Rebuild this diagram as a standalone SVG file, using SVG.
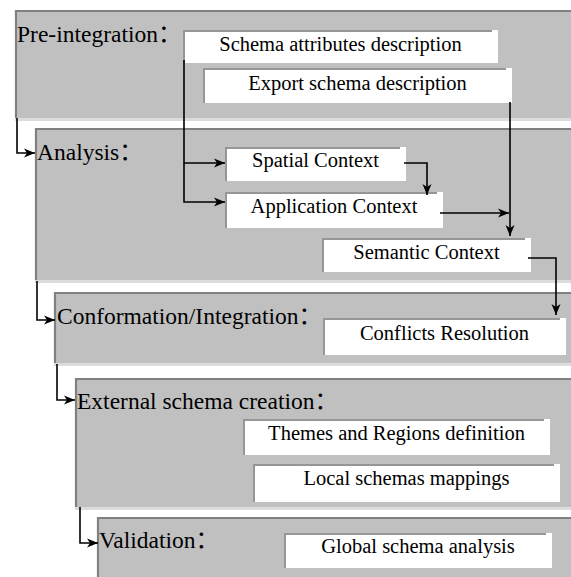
<svg xmlns="http://www.w3.org/2000/svg" width="571" height="577" viewBox="0 0 571 577">
<defs>
<marker id="ah" markerUnits="userSpaceOnUse" markerWidth="12" markerHeight="10" refX="11" refY="5" orient="auto">
<path d="M0,0.5 L11,5 L0,9.5 L3,5 z" fill="#000"/>
</marker>
<style>
.panel{fill:#c0c0c0}
.pedge{fill:none;stroke:#808080;stroke-width:2.2}
.plight{stroke:#dcdcdc;stroke-width:3}
.stage{font-family:"Liberation Serif","Times New Roman","Noto Sans CJK SC",serif;font-size:23.5px;fill:#000}
.box{fill:#fff}
.bedge{fill:none;stroke:#969696;stroke-width:2}
.bt{font-family:"Liberation Serif","Times New Roman",serif;font-size:20.5px;fill:#000;text-anchor:middle}
.cn{fill:none;stroke:#000;stroke-width:1.6;marker-end:url(#ah)}
</style>
</defs>
<rect width="571" height="577" fill="#fff"/>

<g id="stage-pre">
<rect class="panel" x="15" y="10" width="556" height="108"/>
<line class="plight" x1="15" y1="119.5" x2="571" y2="119.5"/>
<path class="pedge" d="M16,118 V11 H571"/>
<text class="stage" x="17" y="42">Pre-integration<tspan font-family="Noto Sans CJK SC,sans-serif">：</tspan></text>
</g>
<g id="stage-analysis">
<rect class="panel" x="35" y="128" width="536" height="152"/>
<line class="plight" x1="35" y1="281.5" x2="571" y2="281.5"/>
<path class="pedge" d="M36,280 V129 H571"/>
<text class="stage" x="37" y="160">Analysis<tspan font-family="Noto Sans CJK SC,sans-serif">：</tspan></text>
</g>
<g id="stage-conf">
<rect class="panel" x="54" y="292" width="517" height="71"/>
<line class="plight" x1="54" y1="364.5" x2="571" y2="364.5"/>
<path class="pedge" d="M55,363 V293 H571"/>
<text class="stage" x="57" y="324">Conformation/Integration<tspan font-family="Noto Sans CJK SC,sans-serif">：</tspan></text>
</g>
<g id="stage-external">
<rect class="panel" x="75" y="378" width="496" height="129"/>
<line class="plight" x1="75" y1="508.5" x2="571" y2="508.5"/>
<path class="pedge" d="M76,507 V379 H571"/>
<text class="stage" x="77" y="409">External schema creation<tspan font-family="Noto Sans CJK SC,sans-serif">：</tspan></text>
</g>
<g id="stage-validation">
<rect class="panel" x="97" y="517" width="474" height="60"/>
<path class="pedge" d="M98,577 V518 H571"/>
<text class="stage" x="99" y="548">Validation<tspan font-family="Noto Sans CJK SC,sans-serif">：</tspan></text>
</g>

<g id="box-schema-attr">
<rect class="box" x="183" y="30" width="315" height="33"/>
<path class="bedge" d="M184,63 V31 H492"/>
<text class="bt" x="340.5" y="51">Schema attributes description</text>
</g>
<g id="box-export">
<rect class="box" x="203" y="68" width="309" height="35"/>
<path class="bedge" d="M204,103 V69 H506"/>
<text class="bt" x="357.5" y="90">Export schema description</text>
</g>
<g id="box-spatial">
<rect class="box" x="225" y="147" width="181" height="34"/>
<path class="bedge" d="M226,181 V148 H400"/>
<text class="bt" x="315.5" y="167">Spatial Context</text>
</g>
<g id="box-application">
<rect class="box" x="225" y="192" width="218" height="36"/>
<path class="bedge" d="M226,228 V193 H437"/>
<text class="bt" x="334" y="213">Application Context</text>
</g>
<g id="box-semantic">
<rect class="box" x="322" y="238" width="209" height="34"/>
<path class="bedge" d="M323,272 V239 H525"/>
<text class="bt" x="426.5" y="259">Semantic Context</text>
</g>
<g id="box-conflicts">
<rect class="box" x="323" y="318" width="243" height="37"/>
<path class="bedge" d="M324,355 V319 H560"/>
<text class="bt" x="444.5" y="340">Conflicts Resolution</text>
</g>
<g id="box-themes">
<rect class="box" x="243" y="419" width="307" height="36"/>
<path class="bedge" d="M244,455 V420 H544"/>
<text class="bt" x="396.5" y="440">Themes and Regions definition</text>
</g>
<g id="box-local">
<rect class="box" x="253" y="464" width="307" height="38"/>
<path class="bedge" d="M254,502 V465 H554"/>
<text class="bt" x="406.5" y="485">Local schemas mappings</text>
</g>
<g id="box-global">
<rect class="box" x="284" y="533" width="268" height="35"/>
<path class="bedge" d="M285,568 V534 H546"/>
<text class="bt" x="418" y="553">Global schema analysis</text>
</g>

<g id="connectors">
<path class="cn" d="M17,118 V153 H35"/>
<path class="cn" d="M37,281 V320 H55"/>
<path class="cn" d="M57,364 V400 H75"/>
<path class="cn" d="M80,507 V543 H98"/>
<path class="cn" d="M184,60 V163 H225"/>
<path class="cn" d="M184,163 V202 H225"/>
<path class="cn" d="M404,163 H427 V195"/>
<path class="cn" d="M440,213 H509"/>
<path class="cn" d="M510,102 V236"/>
<path class="cn" d="M528,258 H556 V315"/>
</g>
</svg>
